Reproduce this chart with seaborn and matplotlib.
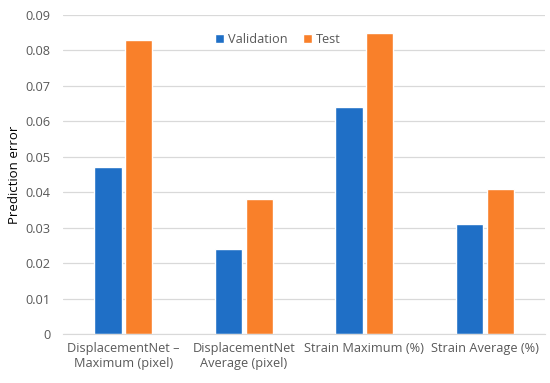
import matplotlib
matplotlib.use("Agg")
import matplotlib.pyplot as plt
import seaborn as sns
import pandas as pd

categories = ["DisplacementNet \u2013\nMaximum (pixel)", "DisplacementNet\nAverage (pixel)",
              "Strain Maximum (%)", "Strain Average (%)"]
validation = [0.047, 0.024, 0.064, 0.031]
test = [0.083, 0.038, 0.085, 0.041]
series = ["Validation", "Test"]
colors = ["#1f6fc6", "#f9802a"]

df = pd.DataFrame({
    "category": categories * 2,
    "value": validation + test,
    "series": [series[0]] * 4 + [series[1]] * 4,
})

sns.set_style("white")
plt.rcParams['font.family'] = ['Open Sans', 'DejaVu Sans']

fig = plt.figure(figsize=(5.5, 3.83), dpi=100)
ax = fig.add_axes([0.1145, 0.128, 0.877, 0.833])
sns.barplot(data=df, x="category", y="value", hue="series", palette=colors,
            width=0.51, gap=0.115, ax=ax, saturation=1)

ax.set_ylim(0, 0.09)
ax.set_yticks([i / 100 for i in range(10)])
ax.set_yticklabels(["0"] + ["0.%02d" % i for i in range(1, 10)])
ax.grid(axis="y", color="#d9d9d9", linewidth=0.9)
ax.set_axisbelow(True)
for s in ["top", "right", "left"]:
    ax.spines[s].set_visible(False)
ax.spines["bottom"].set_color("#d9d9d9")
ax.tick_params(axis="both", length=0, colors="#595959", labelsize=9.2)
ax.tick_params(axis="y", pad=9)
ax.tick_params(axis="x", pad=6)
ax.set_xlabel("")
ax.set_ylabel("Prediction error", fontsize=9.5, color="black", labelpad=3)

ax.legend(loc="upper center", bbox_to_anchor=(0.445, 0.98), ncol=2, frameon=False,
          fontsize=9.2, handlelength=0.7, handleheight=0.7, handletextpad=0.3,
          columnspacing=1.2, labelcolor="#595959")

fig.savefig("out.png", dpi=100)
